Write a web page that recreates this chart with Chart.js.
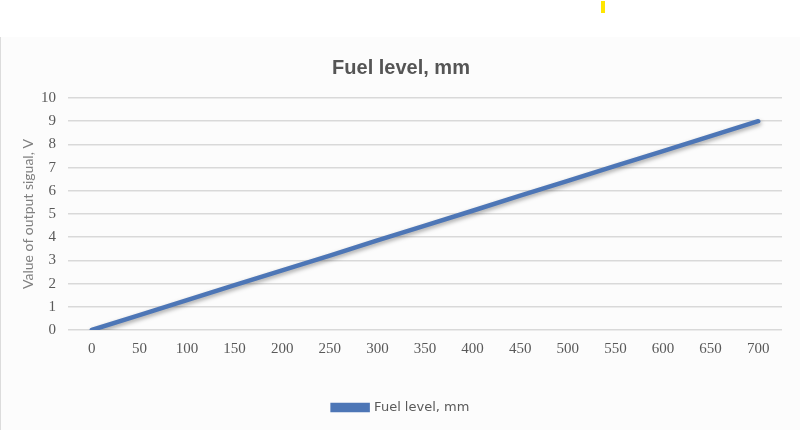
<!DOCTYPE html>
<html>
<head>
<meta charset="utf-8">
<script src="https://cdn.jsdelivr.net/npm/chart.js@4.4.0/dist/chart.umd.min.js"></script>
<style>
  body { margin: 0; background: #ffffff; width: 800px; height: 430px; overflow: hidden; position: relative; }
  #mark { position: absolute; left: 601px; top: 1px; width: 4px; height: 12px; background: #ffe600; }
  #panel { position: absolute; left: 0; top: 37px; width: 799px; height: 393px; background: #fcfcfc; border-left: 1px solid #dcdcdc; }
</style>
</head>
<body>
<div id="mark"></div>
<div id="panel"><canvas id="chart" width="799" height="393"></canvas></div>
<script>
// data
const fuelLevels = ['0', '50', '100', '150', '200', '250', '300', '350', '400', '450', '500', '550', '600', '650', '700'];
const signalVolts = [0, 0.64, 1.29, 1.93, 2.57, 3.21, 3.86, 4.5, 5.14, 5.79, 6.43, 7.07, 7.71, 8.36, 9];
const yTicks = [0, 1, 2, 3, 4, 5, 6, 7, 8, 9, 10];

const lineColor = '#4d76b6';

// soft shadow under the line like excel
const shadowPlugin = {
    id: 'lineShadow',
    beforeDatasetDraw(chart) {
        const ctx = chart.ctx;
        ctx.save();
        ctx.shadowColor = 'rgba(0,0,0,0.35)';
        ctx.shadowBlur = 4;
        ctx.shadowOffsetX = 1;
        ctx.shadowOffsetY = 2;
    },
    afterDatasetDraw(chart) {
        chart.ctx.restore();
    }
};

new Chart(document.getElementById('chart').getContext('2d'), {
    type: 'line',
    data: {
        labels: fuelLevels,
        datasets: [{
            label: 'Fuel level, mm',
            data: signalVolts,
            borderColor: lineColor,
            backgroundColor: lineColor,
            borderWidth: 4.5,
            borderCapStyle: 'round',
            pointRadius: 0,
            tension: 0
        }]
    },
    options: {
        responsive: false,
        animation: false,
        layout: { padding: { left: 19, right: 18, top: 19, bottom: 6 } },
        plugins: {
            title: {
                display: true,
                text: 'Fuel level, mm',
                color: '#555555',
                font: { family: 'Liberation Sans', size: 20, weight: 'bold' },
                padding: { top: 0, bottom: 18 }
            },
            legend: {
                position: 'bottom',
                labels: {
                    boxWidth: 35,
                    boxHeight: 5,
                    color: '#595959',
                    font: { family: 'DejaVu Sans', size: 13 },
                    padding: 28
                }
            },
            tooltip: { enabled: false }
        },
        scales: {
            x: {
                offset: true,
                grid: { display: false, drawTicks: false },
                border: { display: false },
                afterFit(axis) { axis.height += 5; },
                ticks: {
                    color: '#595959',
                    font: { family: 'Liberation Serif', size: 15 },
                    padding: 10,
                    maxRotation: 0,
                    autoSkip: false
                }
            },
            y: {
                min: 0,
                max: 10,
                afterBuildTicks(axis) { axis.ticks = yTicks.map(v => ({ value: v })); },
                afterFit(axis) { axis.width = 48; },
                grid: { color: '#d9d9d9', lineWidth: 1.5, drawTicks: false },
                border: { display: false },
                title: {
                    display: true,
                    text: 'Value of output sigual, V',
                    color: '#7f7f7f',
                    font: { family: 'Lato', size: 14 },
                    padding: { top: 0, bottom: 0 }
                },
                ticks: {
                    color: '#595959',
                    font: { family: 'Liberation Serif', size: 15 },
                    padding: 12
                }
            }
        }
    },
    plugins: [shadowPlugin]
});
</script>
</body>
</html>
